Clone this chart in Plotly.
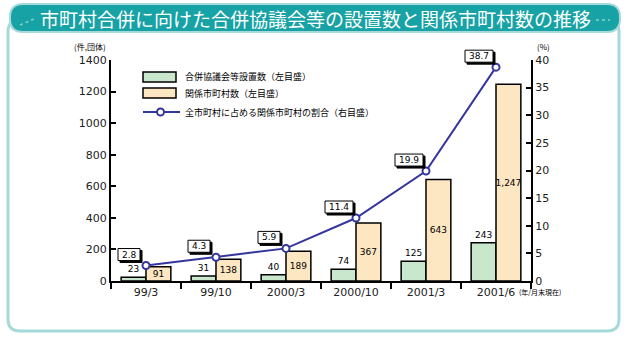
import plotly.graph_objects as go

# ---- data ----
categories = ["99/3", "99/10", "2000/3", "2000/10", "2001/3", "2001/6"]
councils = [23, 31, 40, 74, 125, 243]            # 合併協議会等設置数
municipalities = [91, 138, 189, 367, 643, 1247]  # 関係市町村数
share_pct = [2.8, 4.3, 5.9, 11.4, 19.9, 38.7]    # 全市町村に占める関係市町村の割合

title_text = "市町村合併に向けた合併協議会等の設置数と関係市町村数の推移"
name_councils = "合併協議会等設置数（左目盛）"
name_munis = "関係市町村数（左目盛）"
name_share = "全市町村に占める関係市町村の割合（右目盛）"

W, H = 626, 337
L, R, T, B = 111, 95, 60, 56
PW, PH = W - L - R, H - T - B
Y2_MAX = 40

JP = "Noto Sans CJK JP"
NUM = "DejaVu Sans, Liberation Sans, sans-serif"
GREEN = "#c9e7cd"
BEIGE = "#fde7c3"
LINE = "#35359e"


def px(x):
    return (x - L) / PW


def py(y):
    return (H - B - y) / PH


def rrect(x0, y0, x1, y1, r):
    a, b, c, d = px(x0), px(x1), py(y0), py(y1)
    rx, ry = r / PW, r / PH
    return (f"M {a+rx} {c} L {b-rx} {c} Q {b} {c} {b} {c-ry} "
            f"L {b} {d+ry} Q {b} {d} {b-rx} {d} L {a+rx} {d} "
            f"Q {a} {d} {a} {d+ry} L {a} {c-ry} Q {a} {c} {a+rx} {c} Z")


fig = go.Figure()

fig.add_trace(go.Bar(
    x=categories, y=councils, name=name_councils,
    marker=dict(color=GREEN, line=dict(color="black", width=1.5)),
    text=councils, textposition="outside", cliponaxis=False,
    textangle=0, constraintext="none",
    textfont=dict(family=NUM, size=9, color="black"),
))
fig.add_trace(go.Bar(
    x=categories, y=municipalities, name=name_munis,
    marker=dict(color=BEIGE, line=dict(color="black", width=1.5)),
    texttemplate="%{y:,}", textposition="inside", insidetextanchor="middle",
    textangle=0, constraintext="none",
    textfont=dict(family=NUM, size=9, color="black"),
))
fig.add_trace(go.Scatter(
    x=categories, y=share_pct, name=name_share, yaxis="y2",
    mode="lines+markers", cliponaxis=False,
    line=dict(color=LINE, width=2),
    marker=dict(symbol="circle", size=7, color="white",
                line=dict(color=LINE, width=2)),
))

shapes = []
# outer panel with rounded border
shapes.append(dict(type="path", xref="paper", yref="paper", layer="below",
                   path=rrect(8, 20, 619, 331, 12),
                   fillcolor="white", line=dict(color="#a6dada", width=3)))
# title banner
shapes.append(dict(type="path", xref="paper", yref="paper",
                   path=rrect(10, 4, 620, 32, 13),
                   fillcolor="#17a2a6", line=dict(color="#a6dada", width=2)))
# small dotted decorations in banner
shapes.append(dict(type="line", xref="paper", yref="paper",
                   x0=px(20), x1=px(34), y0=py(25), y1=py(19),
                   line=dict(color="#8fd0c8", width=1.5, dash="dot")))
shapes.append(dict(type="line", xref="paper", yref="paper",
                   x0=px(596), x1=px(610), y0=py(20), y1=py(20),
                   line=dict(color="#8fd0c8", width=1.5, dash="dot")))
# manual legend
shapes.append(dict(type="rect", xref="paper", yref="paper",
                   x0=px(143), x1=px(176), y0=py(72), y1=py(82),
                   fillcolor=GREEN, line=dict(color="black", width=1.5)))
shapes.append(dict(type="rect", xref="paper", yref="paper",
                   x0=px(143), x1=px(176), y0=py(88), y1=py(98),
                   fillcolor=BEIGE, line=dict(color="black", width=1.5)))
shapes.append(dict(type="line", xref="paper", yref="paper",
                   x0=px(143), x1=px(180), y0=py(112), y1=py(112),
                   line=dict(color=LINE, width=2)))
shapes.append(dict(type="circle", xref="paper", yref="paper",
                   x0=px(157), x1=px(164), y0=py(108.5), y1=py(115.5),
                   fillcolor="white", line=dict(color=LINE, width=2)))


def note(text, x, y, size, xanchor="center", color="black", family=JP):
    return dict(text=text, xref="paper", yref="paper", x=px(x), y=py(y),
                xanchor=xanchor, yanchor="middle", showarrow=False,
                font=dict(family=family, size=size, color=color))


annotations = [
    note(title_text, 315, 18, 19, color="white"),
    note(name_councils, 183, 77, 9, "left"),
    note(name_munis, 183, 93, 9, "left"),
    note(name_share, 183, 112, 9, "left"),
    note("(件,団体)", 90, 46, 8),
    note("(%)", 543, 46, 8),
    note("(年/月末現在)", 517, 292, 7, "left"),
]

# percentage callout boxes (shape box + shadow, text annotation)
OX, OY = -17, 11
n = len(categories)
for i, v in enumerate(share_pct):
    label = f"{v}"
    w = 6 * len(label) + 4
    for dx, dy, fill in ((2, -2, "black"), (0, 0, "white")):
        shapes.append(dict(
            type="rect", xref="paper", yref="paper",
            xsizemode="pixel", ysizemode="pixel",
            xanchor=(i + 0.5) / n, yanchor=v / Y2_MAX,
            x0=OX - w / 2 + dx, x1=OX + w / 2 + dx,
            y0=OY - 6 + dy, y1=OY + 6 + dy,
            fillcolor=fill, line=dict(color="black", width=1),
        ))
    annotations.append(dict(
        text=label, x=categories[i], y=v, xref="x", yref="y2",
        showarrow=False, xshift=OX, yshift=OY,
        font=dict(family=NUM, size=9, color="black"),
    ))

fig.update_layout(
    width=W, height=H,
    margin=dict(l=L, r=R, t=T, b=B),
    paper_bgcolor="white", plot_bgcolor="rgba(0,0,0,0)",
    showlegend=False,
    barmode="group", bargap=0.29, bargroupgap=0,
    shapes=shapes, annotations=annotations,
    xaxis=dict(
        showline=True, linecolor="black", linewidth=2,
        ticks="outside", ticklen=6, tickwidth=1.5, tickcolor="black",
        tickson="boundaries", showgrid=False,
        tickfont=dict(family=NUM, size=11, color="#222"),
    ),
    yaxis=dict(
        range=[0, 1400], dtick=200, showgrid=False, zeroline=False,
        showline=True, linecolor="black", linewidth=2,
        ticks="inside", ticklen=5, tickwidth=1.5, tickcolor="black",
        tickfont=dict(family=NUM, size=11, color="#222"),
    ),
    yaxis2=dict(
        range=[0, Y2_MAX], dtick=5, overlaying="y", side="right",
        showgrid=False, zeroline=False,
        showline=True, linecolor="black", linewidth=2,
        ticks="inside", ticklen=5, tickwidth=1.5, tickcolor="black",
        tickfont=dict(family=NUM, size=11, color="#222"),
    ),
)

fig.write_html("out.html")
